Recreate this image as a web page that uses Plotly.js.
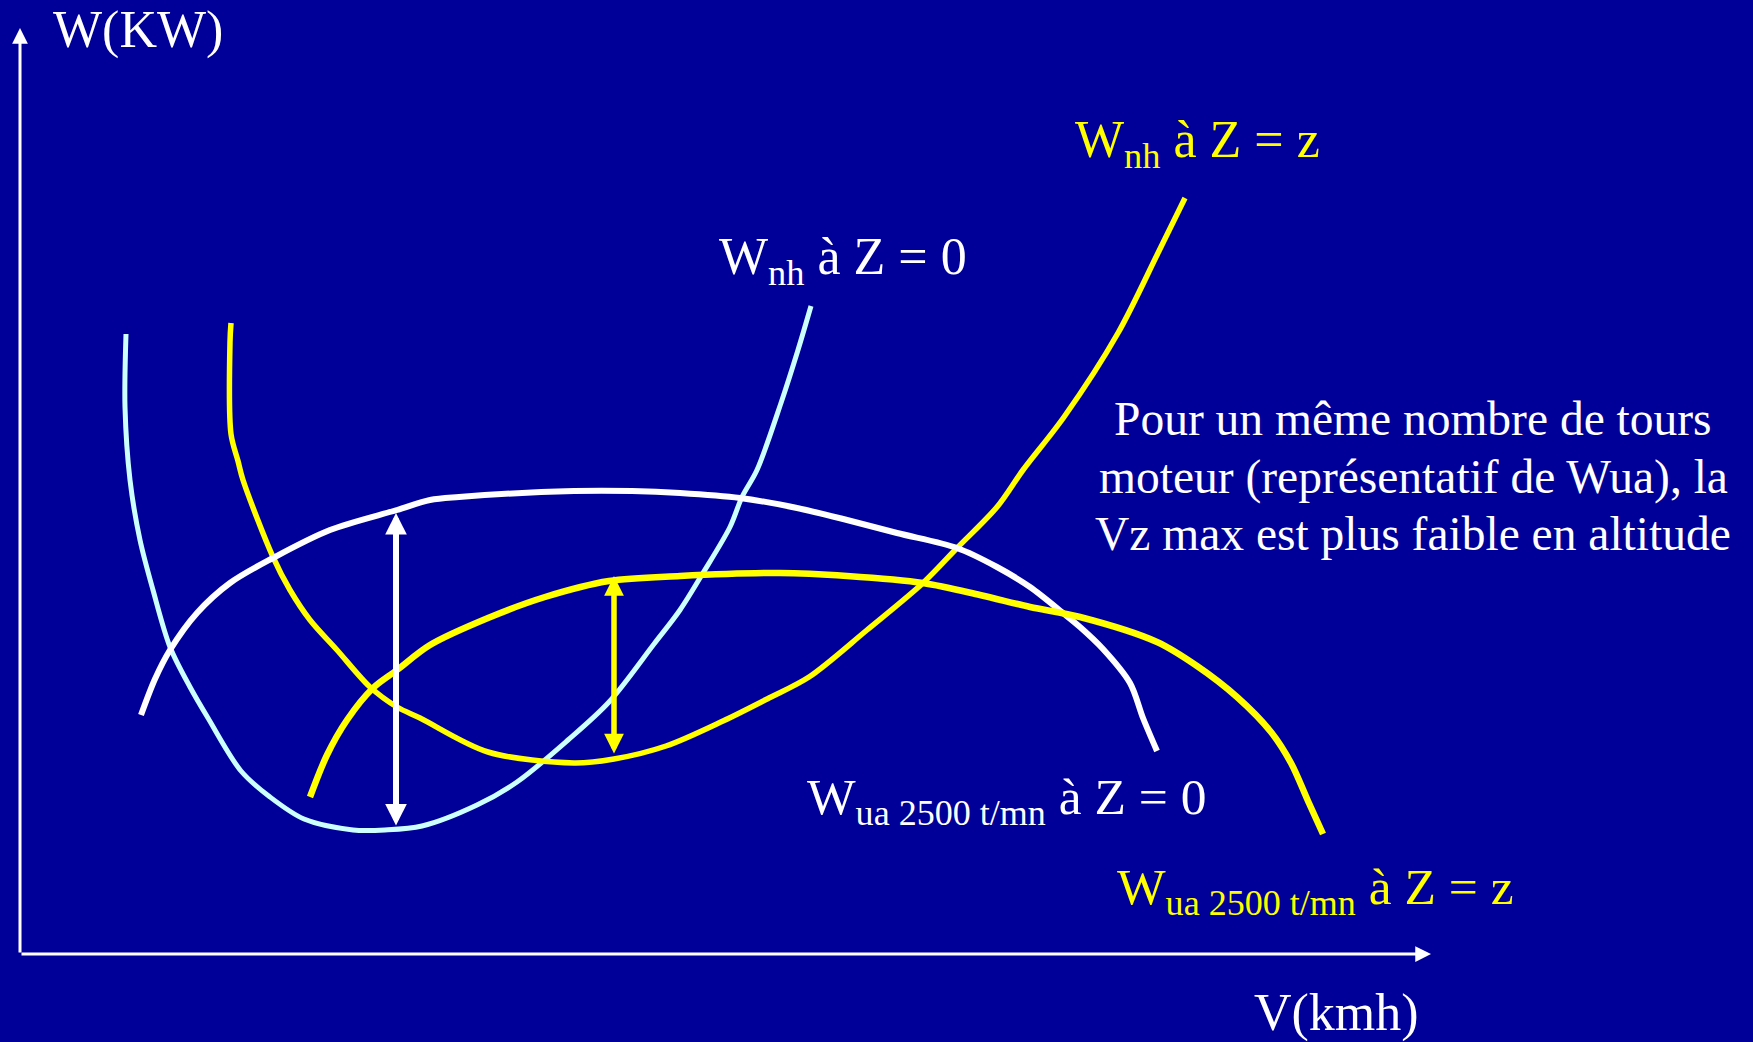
<!DOCTYPE html>
<html>
<head>
<meta charset="utf-8">
<script src="https://cdn.plot.ly/plotly-3.0.1.min.js"></script>
<style>html,body{margin:0;padding:0;background:#000099;}#chart{width:1753px;height:1042px;}</style>
</head>
<body>
<div id="chart"></div>
<script>
// Schematic values (arbitrary units: V along speed axis, W along power axis)
// W_nh at Z = 0 (power needed, sea level)
const vNh0 = [106,105,110,120,133,150,170,188,221,250,284,333,365,402,457,497,548,589,634,660,683,710,722,737,761,778,791];
const wNh0 = [620,547,474,414,364,307,267,236,183,157,135,124,124,128,149,172,214,252,310,344,381,427,457,484,551,604,648];
// W_nh at Z = z (power needed, altitude)
const vNhz = [211,210,211,218,223,253,270,290,317,350,377,400,468,554,594,646,703,749,789,847,903,937,977,1003,1044,1098,1138,1165];
const wNhz = [631,612,520,493,474,397,364,334,304,267,247,236,202,191,195,208,233,256,277,324,371,406,447,484,537,621,701,756];
// W_ua 2500 t/mn at Z = 0 (power available, sea level)
const vUa0 = [121,135,150,177,210,253,310,377,410,439,554,612,660,720,777,827,877,937,977,1010,1043,1060,1083,1110,1123,1137];
const wUa0 = [239,275,304,341,371,396,424,444,454,457,463,463,461,456,446,434,421,406,387,367,341,327,305,271,236,203];
// W_ua 2500 t/mn at Z = z (power available, altitude)
const vUaz = [290,307,327,353,377,410,468,525,589,660,760,827,903,960,1010,1060,1137,1177,1217,1251,1271,1288,1303];
const wUaz = [157,199,234,266,284,309,336,357,373,378,381,378,371,359,347,337,312,288,257,222,191,153,120];
// Vz max indicators (excess power): speed, lower and upper power
const excessV = [376, 594];
const excessLow = [127, 199];
const excessHigh = [441, 378];
const excessColors = ['#ffffff', '#ffff00'];

const axisVmax = 1411;
const axisWmax = 926;

const labels = {
  yTitle: 'W(KW)',
  xTitle: 'V(kmh)',
  nh0: 'W<sub>nh</sub> à Z = 0',
  nhz: 'W<sub>nh</sub> à Z = z',
  ua0: 'W<sub>ua 2500 t/mn</sub> à Z = 0',
  uaz: 'W<sub>ua 2500 t/mn</sub> à Z = z',
  note: ['Pour un même nombre de tours', 'moteur (représentatif de Wua), la', 'Vz max est plus faible en altitude']
};

const font = 'Liberation Serif, Times New Roman, serif';
const CYAN = '#ccffff', YEL = '#ffff00', WHITE = '#ffffff';

function line(x, y, color, width) {
  return {x: x, y: y, type: 'scatter', mode: 'lines', hoverinfo: 'skip',
    line: {color: color, width: width, shape: 'spline', smoothing: 0.9}};
}

const traces = [
  line(vNh0, wNh0, CYAN, 5),
  line(vNhz, wNhz, YEL, 5.5),
  line(vUa0, wUa0, WHITE, 6),
  line(vUaz, wUaz, YEL, 6.5)
];

const ann = [];
// axes arrows
ann.push({x: axisVmax, y: 0, ax: 0, ay: 0, axref: 'x', ayref: 'y', xref: 'x', yref: 'y', text: '',
  showarrow: true, arrowhead: 2, arrowsize: 1.05, arrowwidth: 3, arrowcolor: WHITE});
ann.push({x: 0, y: axisWmax, ax: 0, ay: 0, axref: 'x', ayref: 'y', xref: 'x', yref: 'y', text: '',
  showarrow: true, arrowhead: 2, arrowsize: 1.05, arrowwidth: 3, arrowcolor: WHITE});
// excess power double arrows
const aw = [6, 5.5];
for (let i = 0; i < excessV.length; i++) {
  ann.push({x: excessV[i], y: excessHigh[i], ax: excessV[i], ay: excessLow[i], axref: 'x', ayref: 'y',
    xref: 'x', yref: 'y', text: '', showarrow: true, arrowside: 'end+start',
    arrowhead: 2, startarrowhead: 2, arrowsize: 0.72, startarrowsize: 0.72,
    arrowwidth: aw[i], arrowcolor: excessColors[i]});
}
function txt(x, y, t, color, size, xanchor) {
  ann.push({x: x, y: y, xref: 'x', yref: 'y', text: t, showarrow: false, xanchor: xanchor || 'left',
    yanchor: 'middle', font: {family: font, size: size, color: color}});
}
txt(31, 924, labels.yTitle, WHITE, 52);
txt(1232, -59, labels.xTitle, WHITE, 52);
txt(697, 694, labels.nh0, WHITE, 52);
txt(1053, 811, labels.nhz, YEL, 52);
txt(785, 154, labels.ua0, WHITE, 51.5);
txt(1095, 64, labels.uaz, YEL, 51.5);
const noteW = [535, 477, 420];
labels.note.forEach((t, i) => txt(1393, noteW[i], t, WHITE, 47.5, 'center'));

const layout = {
  width: 1753, height: 1042,
  margin: {l: 0, r: 0, t: 0, b: 0},
  paper_bgcolor: '#000099', plot_bgcolor: '#000099',
  showlegend: false,
  xaxis: {range: [-20, 1733], visible: false, fixedrange: true},
  yaxis: {range: [-88, 954], visible: false, fixedrange: true},
  annotations: ann
};
Plotly.newPlot('chart', traces, layout, {staticPlot: true, displayModeBar: false});
</script>
</body>
</html>
